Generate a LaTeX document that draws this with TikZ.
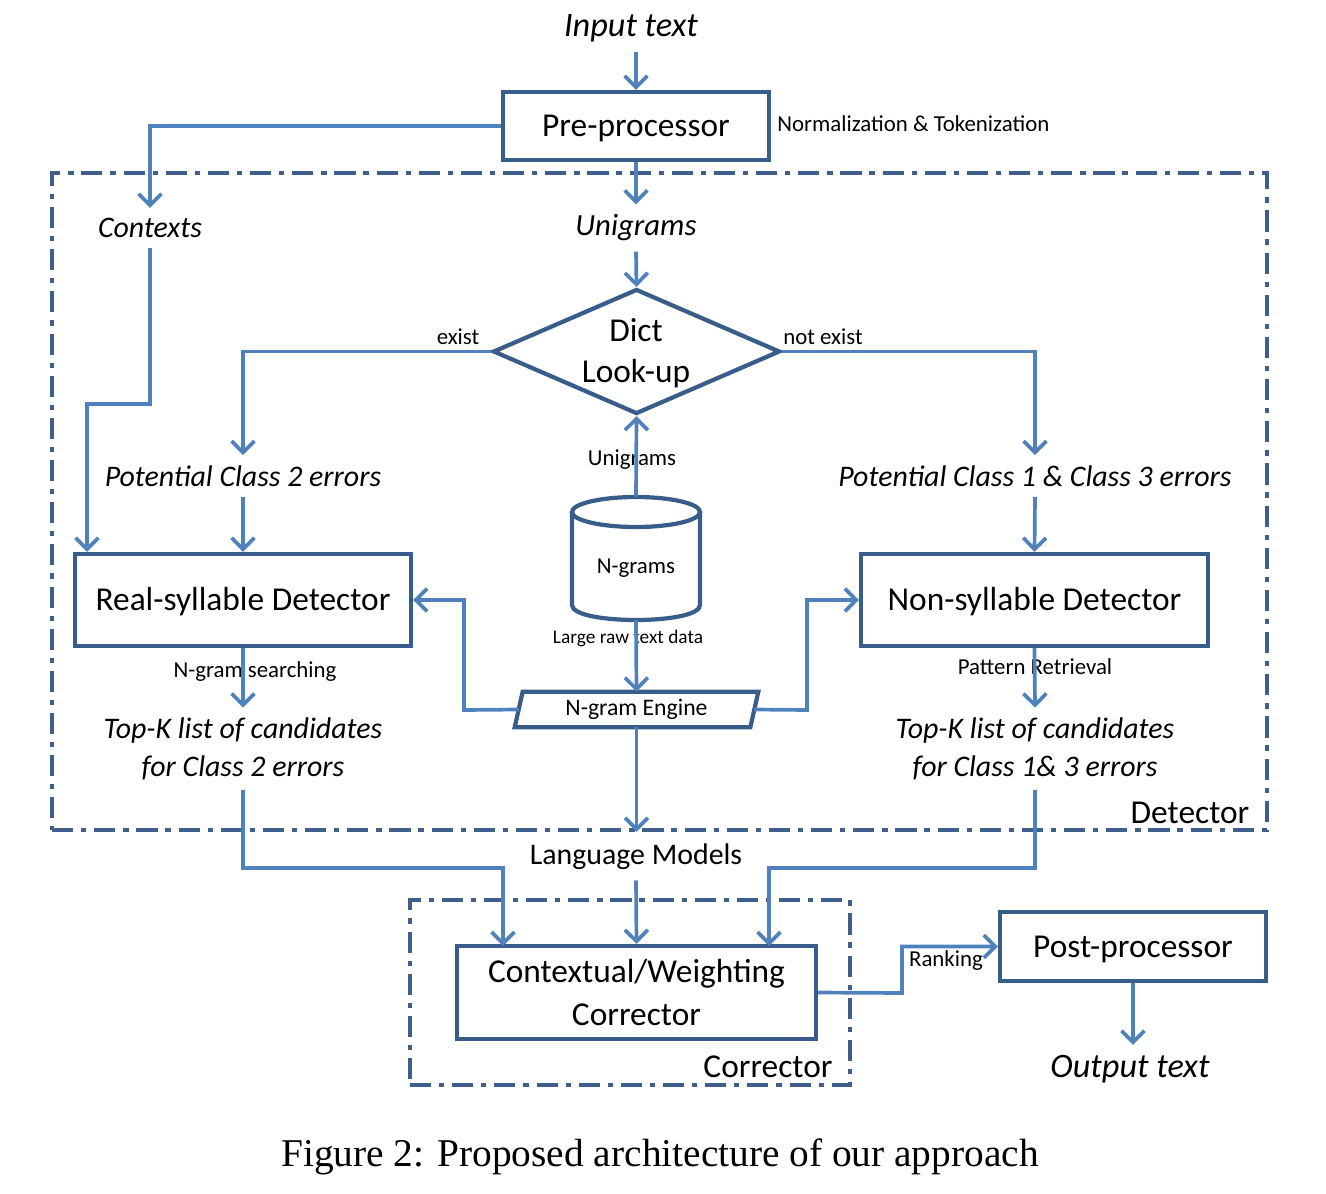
\documentclass[tikz,border=0pt]{standalone}
\usepackage{fontspec}
\setmainfont{Carlito}
\newfontfamily\capfont{Liberation Serif}
\usetikzlibrary{arrows.meta,shapes.geometric,calc}
\definecolor{arrblue}{HTML}{4F81BD}
\definecolor{boxblue}{HTML}{385D8A}
\definecolor{dashblue}{HTML}{3E5E8C}
\newcommand\szBig{\fontsize{19}{24.5}\selectfont}
\newcommand\szMid{\fontsize{17}{21.5}\selectfont}
\newcommand\szLarge{\fontsize{19.5}{23}\selectfont}
\newcommand\szSmall{\fontsize{13}{15}\selectfont}
\newcommand\szTiny{\fontsize{11}{13}\selectfont}
\begin{document}
\begin{tikzpicture}[x=0.02cm,y=-0.02cm,
 arr/.style={draw=arrblue, line width=2.1pt, -{Straight Barb[length=6.5pt,width=13pt]}},
 box/.style={draw=boxblue, line width=2.4pt, rectangle, inner sep=0pt, font=\szBig, align=center},
 onel/.style={text height=16pt, text depth=4pt},
 ghost/.style={inner sep=0pt, rectangle},
 lbl/.style={inner xsep=0pt, inner ysep=0.2cm, font=\szMid\itshape, align=center},
 small/.style={inner sep=0pt, font=\szSmall},
 grp/.style={draw=dashblue, line width=2.2pt, dash pattern=on 12pt off 4.5pt on 3pt off 4.5pt, rectangle, inner sep=0pt},
]
\useasboundingbox (0,0) rectangle (1326,1194);

% group frames
\node[grp, minimum width=24.3cm, minimum height=13.14cm] (det) at (659.5,501.5) {};
\node[grp, minimum width=8.8cm, minimum height=3.7cm] (corr) at (630,992.5) {};
\node[inner sep=0pt, font=\szBig] (detlbl) at (1190,813) {Detector};
\node[inner sep=0pt, font=\szBig] (corrlbl) at (768,1067) {Corrector};

% boxes
\node[box, onel, minimum width=5.32cm, minimum height=1.36cm] (pre) at (636,126) {Pre-processor};
\node[box, onel, minimum width=6.72cm, minimum height=1.84cm] (rsd) at (243,600) {Real-syllable Detector};
\node[box, onel, minimum width=6.94cm, minimum height=1.84cm] (nsd) at (1034.5,600) {Non-syllable Detector};
\node[box, minimum width=7.18cm, minimum height=1.86cm] (cwc) at (636.5,992.5) {Contextual/Weighting\\Corrector};
\node[box, onel, minimum width=5.32cm, minimum height=1.38cm] (post) at (1133,946.5) {Post-processor};

% diamond
\node[draw=boxblue, line width=2.4pt, diamond, minimum width=5.74cm, minimum height=2.5cm, inner sep=0pt] (dict) at (636.5,351.5) {};
\node[font=\szBig, align=center, inner sep=0pt] (dicttxt) at (636,353) {Dict\\[-1pt]Look-up};

% cylinder
\node[ghost, minimum width=2.56cm, minimum height=2.46cm] (cyl) at (636,558.5) {};
\draw[draw=boxblue, line width=2.4pt] (636,512) ellipse [x radius=1.28cm, y radius=0.3cm];
\draw[draw=boxblue, line width=2.4pt] (572,512) -- (572,605) .. controls (572,625) and (700,625) .. (700,605) -- (700,512);
\node[small] (cyltxt) at (636,568) {N-grams};

% engine parallelogram
\node[ghost, minimum width=4.7cm, minimum height=0.7cm, font=\fontsize{13.5}{15}\selectfont] (eng) at (636.5,709.5) {N-gram Engine};
\draw[draw=boxblue, line width=2.4pt] ($(eng.north west)+(4,0)$) -- ($(eng.north east)+(4,0)$) -- ($(eng.south east)+(-4,0)$) -- ($(eng.south west)+(-4,0)$) -- cycle;

% text labels
\node[lbl, font=\szLarge\itshape] (input) at (631,28) {Input text};
\node[lbl] (contexts) at (150,228) {Contexts};
\node[lbl, font=\fontsize{17.5}{21}\selectfont\itshape] (unig) at (636,228) {Unigrams};
\node[lbl] (pc2) at (243,476) {Potential Class 2 errors};
\node[lbl] (pc13) at (1035,476) {Potential Class 1 \& Class 3 errors};
\node[lbl] (topk2) at (243,749) {Top-K list of candidates\\for Class 2 errors};
\node[lbl] (topk13) at (1035,749) {Top-K list of candidates\\for Class 1\& 3 errors};
\node[inner xsep=0pt, inner ysep=0.2cm, font=\szMid] (lm) at (636,857) {Language Models};
\node[lbl, font=\szLarge\itshape] (output) at (1130,1069) {Output text};

\node[small, anchor=west] (normtok) at (777,124) {Normalization \& Tokenization};
\node[small] (exist) at (458,337) {exist};
\node[small] (notexist) at (823,337) {not exist};
\node[small] (uniglbl) at (632,460) {Unigrams};
\node[inner sep=0pt, font=\szTiny] (rawlbl) at (628,638) {Large raw text data};
\node[small] (searchlbl) at (255,672) {N-gram searching};
\node[small] (pattlbl) at (1035,667) {Pattern Retrieval};
\node[small] (ranklbl) at (946,961) {Ranking};

\node[inner sep=0pt, font=\capfont\fontsize{22.4}{26}\selectfont] (cap) at (660,1157) {Figure 2: Proposed architecture of our approach};

% free-end coordinates
\coordinate (cb1) at (150,404);
\coordinate (cb2) at (87,404);
\coordinate (el) at (464,710);
\coordinate (er) at (807,710);
\coordinate (t2b) at (243,868);
\coordinate (t13b) at (1035,868);
\coordinate (cin1) at (503,946);
\coordinate (cin3) at (769,946);
\coordinate (rk) at (902,993);

% connectors
\draw[arr] (input.south -| pre.north) -- (pre.north);
\draw[arr] (pre.west) -| (contexts.north);
\draw[arr] (pre.south) -- (unig.north);
\draw[arr] (unig.south) -- (dict.north);
\draw[arr] (dict.west) -| (pc2.north);
\draw[arr] (dict.east) -| (pc13.north);
\draw[arr] (pc2.south) -- (rsd.north);
\draw[arr] (pc13.south) -- (nsd.north);
\draw[arr] (contexts.south) -- (cb1) -- (cb2) -- (cb2 |- rsd.north);
\draw[arr] (cyl.north) -- (dict.south);
\draw[arr] (cyl.south) -- (eng.north);
\draw[arr] (eng.west) -- (el) |- (rsd.east);
\draw[arr] (eng.east) -- (er) |- (nsd.east -| nsd.west);
\draw[arr] (rsd.south) -- (topk2.north);
\draw[arr] (nsd.south) -- (topk13.north);
\draw[arr] (eng.south) -- (eng.south |- det.south);
\draw[arr] (topk2.south) -- (t2b) -| (cin1);
\draw[arr] (topk13.south) -- (t13b) -| (cin3);
\draw[arr] (lm.south) -- (cwc.north);
\draw[arr] (cwc.east) -- (rk) |- (post.west);
\draw[arr] (post.south) -- (post.south |- output.north);
\end{tikzpicture}
\end{document}
